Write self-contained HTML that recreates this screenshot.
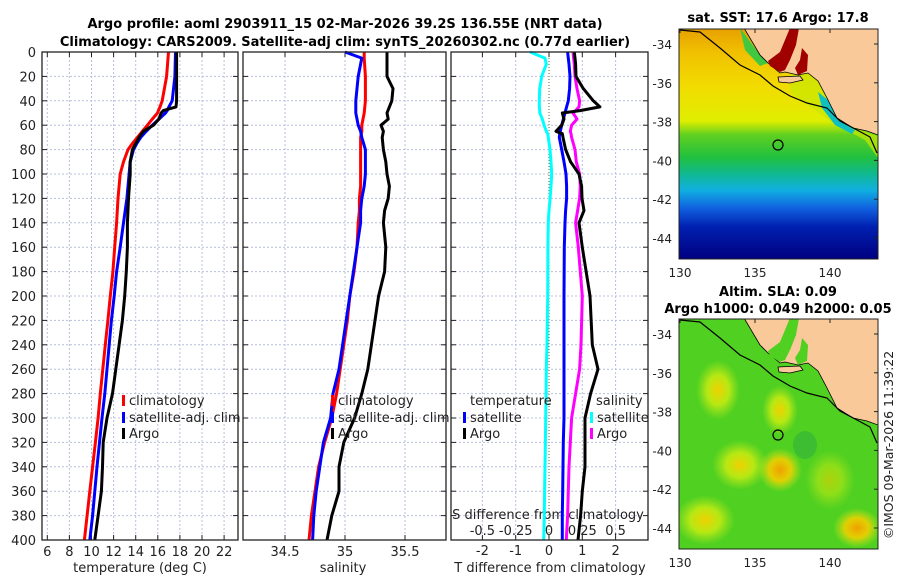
<!DOCTYPE html>
<html><head><meta charset="utf-8">
<style>
body{margin:0;background:#fff;}
svg{display:block;font-family:"DejaVu Sans","Liberation Sans",sans-serif;}
</style></head>
<body>
<svg id="fig" width="900" height="580" viewBox="0 0 900 580">
<defs>
<linearGradient id="sstGrad" x1="0" y1="0" x2="0" y2="1">
<stop offset="0" stop-color="#e8a000"/><stop offset="0.1" stop-color="#f0c000"/>
<stop offset="0.25" stop-color="#f2dc00"/><stop offset="0.4" stop-color="#e0ee00"/>
<stop offset="0.46" stop-color="#60d020"/><stop offset="0.56" stop-color="#20c040"/>
<stop offset="0.63" stop-color="#10b890"/><stop offset="0.7" stop-color="#10b0e0"/>
<stop offset="0.78" stop-color="#1060e0"/><stop offset="0.86" stop-color="#0020b0"/>
<stop offset="1" stop-color="#000080"/></linearGradient>
<radialGradient id="blobY"><stop offset="0" stop-color="#f0d000"/><stop offset="0.5" stop-color="#d0ee10" stop-opacity="0.8"/><stop offset="1" stop-color="#b0e820" stop-opacity="0"/></radialGradient>
<radialGradient id="blobO"><stop offset="0" stop-color="#f0a000"/><stop offset="0.5" stop-color="#f0d000" stop-opacity="0.9"/><stop offset="1" stop-color="#c0e820" stop-opacity="0"/></radialGradient>
<clipPath id="clipTop"><rect x="679" y="29" width="199" height="230"/></clipPath>
<clipPath id="clipBot"><rect x="679" y="319" width="199" height="230"/></clipPath>
</defs>
<g id="titles" fill="#000" font-weight="bold" font-size="13" text-anchor="middle">
<text x="345" y="28">Argo profile: aoml 2903911_15 02-Mar-2026 39.2S 136.55E (NRT data)</text>
<text x="345" y="46">Climatology: CARS2009. Satellite-adj clim: synTS_20260302.nc (0.77d earlier)</text>
</g>
<g id="panels"></g>

<!-- Top map -->
<g clip-path="url(#clipTop)">
<rect x="679" y="29" width="199" height="230" fill="url(#sstGrad)"/>
<path d="M790,72 L808,73 L818,81 L827,98 L837,118 L853,128 L878,136 L878,158 L865,140 L850,132 L835,125 L815,110 L800,100 L790,92Z" fill="#c8e800" opacity="0.7"/>
<path d="M818,92 L828,100 L838,120 L855,130 L852,134 L835,125 L822,108Z" fill="#10c0c0"/>
<path d="M740,28 L760,55 L768,63 L760,66 L745,50Z" fill="#40c840"/>
<path d="M744,28 L878,28 L878,135 L867,131 L853,128 L837,118 L827,98 L818,81 L808,73 L798,75 L785,72 L780,73 L768,63 L760,55Z" fill="#f9c99a" stroke="#000" stroke-width="0.8"/>
<path d="M790,28 L799,28 L796,45 L790,60 L785,70 L780,72 L770,66 L768,61 L780,52Z" fill="#a00000"/>
<path d="M802,48 L808,55 L807,71 L798,75 L795,68 L800,60Z" fill="#a00000"/>
<path d="M778,77 L800,76 L803,80 L790,83 L779,82Z" fill="#f9c99a" stroke="#000" stroke-width="0.8"/>
<polyline points="680,30 700,32 720,48 740,65 760,75 773,86 790,96 807,103 827,108 840,121 857,130 870,137 877,153" fill="none" stroke="#000" stroke-width="1.2"/>
<circle cx="778" cy="145" r="5" fill="none" stroke="#000" stroke-width="1.2"/>
</g>
<rect x="679" y="29" width="199" height="230" fill="none" stroke="#222" stroke-width="1"/>

<!-- Bottom map -->
<g clip-path="url(#clipBot)">
<rect x="679" y="319" width="199" height="230" fill="#50d020"/>
<ellipse cx="718" cy="390" rx="22" ry="30" fill="url(#blobY)"/>
<ellipse cx="780" cy="410" rx="18" ry="25" fill="url(#blobY)"/>
<ellipse cx="740" cy="465" rx="28" ry="25" fill="url(#blobY)"/>
<ellipse cx="780" cy="470" rx="22" ry="22" fill="url(#blobO)"/>
<ellipse cx="705" cy="520" rx="30" ry="25" fill="url(#blobY)"/>
<ellipse cx="857" cy="528" rx="24" ry="20" fill="url(#blobO)"/>
<ellipse cx="830" cy="480" rx="25" ry="30" fill="url(#blobY)" opacity="0.6"/>
<ellipse cx="805" cy="445" rx="12" ry="14" fill="#30b040" opacity="0.6"/>
<path d="M744,318 L878,318 L878,425 L867,421 L853,418 L837,408 L827,388 L818,371 L808,363 L798,365 L785,362 L780,363 L768,353 L760,345Z" fill="#f9c99a" stroke="#000" stroke-width="0.8"/>
<path d="M790,318 L799,318 L796,335 L790,350 L785,360 L780,362 L770,356 L768,351 L780,342Z" fill="#50d020"/>
<path d="M802,338 L808,345 L807,361 L798,365 L795,358 L800,350Z" fill="#50d020"/>
<path d="M778,367 L800,366 L803,370 L790,373 L779,372Z" fill="#f9c99a" stroke="#000" stroke-width="0.8"/>
<polyline points="680,320 700,322 720,338 740,355 760,365 773,376 790,386 807,393 827,398 840,411 857,420 870,427 877,443" fill="none" stroke="#000" stroke-width="1.2"/>
<circle cx="778" cy="435" r="5" fill="none" stroke="#000" stroke-width="1.2"/>
</g>
<rect x="679" y="319" width="199" height="230" fill="none" stroke="#222" stroke-width="1"/>

<g font-size="13" fill="#222">
<text x="778" y="22" text-anchor="middle" font-weight="bold" fill="#000">sat. SST: 17.6 Argo: 17.8</text>
<text x="778" y="296" text-anchor="middle" font-weight="bold" fill="#000">Altim. SLA: 0.09</text>
<text x="778" y="313" text-anchor="middle" font-weight="bold" fill="#000">Argo h1000: 0.049 h2000: 0.05</text>
<text transform="translate(893,445) rotate(-90)" text-anchor="middle" font-size="12.5">©IMOS 09-Mar-2026 11:39:22</text>
</g>
<g id="mapAxes" font-size="12" fill="#222"></g>
</svg>
<script>
// ---- data ----
const depthT = [0,20,40,45,48,50,55,60,65,70,75,80,90,100,120,140,160,180,200,220,240,260,280,300,320,340,360,380,400];
const tempClim = [16.97,16.8,16.4,16.2,16.05,15.97,15.5,15.06,14.6,14.15,13.7,13.3,12.9,12.6,12.4,12.27,12.1,11.94,11.7,11.48,11.25,11.02,10.8,10.6,10.35,10.1,9.85,9.6,9.36];
const tempSat = [17.6,17.55,17.3,17.0,16.85,16.7,16.1,15.5,14.95,14.45,14.1,13.8,13.5,13.4,13.2,12.9,12.6,12.27,12.05,11.8,11.6,11.4,11.2,10.95,10.72,10.5,10.3,10.1,9.85];
const tempArgo = [17.7,17.7,17.7,17.65,16.5,16.3,16.1,15.6,14.7,14.3,14.0,13.7,13.5,13.5,13.35,13.25,13.25,13.15,13.0,12.8,12.5,12.2,11.9,11.4,11.06,11.0,10.9,10.6,10.3];
const depthS = [0,5,20,30,40,50,55,60,65,70,80,90,100,110,120,130,140,160,180,200,220,240,260,280,300,320,340,360,380,400];
const salClim = [35.16,35.16,35.17,35.17,35.17,35.16,35.15,35.14,35.14,35.13,35.13,35.13,35.13,35.13,35.12,35.12,35.11,35.10,35.075,35.04,35.02,34.99,34.96,34.93,34.89,34.83,34.78,34.75,34.72,34.70];
const salSat = [35.0,35.14,35.11,35.1,35.09,35.09,35.1,35.11,35.13,35.14,35.17,35.17,35.17,35.16,35.14,35.13,35.13,35.10,35.07,35.04,35.01,34.98,34.95,34.90,34.88,34.82,34.79,34.76,34.74,34.73];
const salArgo = [35.35,35.35,35.35,35.4,35.39,35.35,35.36,35.3,35.32,35.31,35.32,35.34,35.35,35.37,35.36,35.33,35.32,35.34,35.33,35.28,35.25,35.22,35.19,35.14,35.08,34.99,34.95,34.95,34.89,34.85];
const depthD = [0,5,10,20,30,40,45,48,50,55,60,65,67,70,80,90,100,110,120,130,140,160,200,240,260,280,300,320,340,360,380,400];
const tDiffSat = [0.56,0.58,0.6,0.63,0.62,0.58,0.53,0.5,0.48,0.43,0.38,0.34,0.32,0.31,0.38,0.45,0.51,0.53,0.53,0.5,0.48,0.46,0.45,0.45,0.45,0.45,0.45,0.43,0.42,0.41,0.4,0.4];
const tDiffArgo = [0.76,0.78,0.8,0.81,1.03,1.33,1.53,0.93,0.4,0.45,0.38,0.21,0.4,0.42,0.5,0.65,0.9,0.98,0.99,1.05,0.9,1.0,1.23,1.3,1.47,1.25,1.08,1.08,1.08,1.0,0.95,0.87];
const sDiffSat = [-0.143,-0.03,-0.02,-0.055,-0.07,-0.073,-0.072,-0.07,-0.068,-0.05,-0.037,-0.02,-0.01,-0.005,0.0075,0.015,0.02,0.015,0.008,0.0,-0.005,-0.008,-0.01,-0.015,-0.02,-0.022,-0.025,-0.027,-0.03,-0.033,-0.035,-0.04];
const sDiffArgo = [0.18,0.185,0.19,0.195,0.21,0.23,0.225,0.2,0.18,0.21,0.17,0.16,0.165,0.17,0.195,0.205,0.23,0.235,0.23,0.215,0.2,0.22,0.25,0.24,0.23,0.2,0.17,0.16,0.15,0.145,0.14,0.13];
const depthTicks = [0,20,40,60,80,100,120,140,160,180,200,220,240,260,280,300,320,340,360,380,400];
const tempTicks = [6,8,10,12,14,16,18,20,22];
const salTicks = [34.5,35,35.5];
const tdTicks = [-2,-1,0,1,2];
const sdTickLabels = ["-0.5","-0.25","0","0.25","0.5"];
const sdTicks = [-0.5,-0.25,0,0.25,0.5];
const latTicks = [-34,-36,-38,-40,-42,-44];
const lonTicks = [130,135,140];

// ---- scales ----
const Y0=52, Y1=540;
const yD = d => Y0 + d*(Y1-Y0)/400;
const xT = t => 47.3 + (t-6)*11.05;
const xS = s => 345 + (s-35)*120;
const xTD = v => 549 + v*33.3;
const xSD = v => 549 + v*133.2;
const NS='http://www.w3.org/2000/svg';
const G=document.getElementById('panels');
function el(tag, attrs, parent){const e=document.createElementNS(NS,tag);for(const k in attrs)e.setAttribute(k,attrs[k]);(parent||G).appendChild(e);return e;}
function txt(s,x,y,anchor,parent,size){const t=el('text',{x:x,y:y,'text-anchor':anchor||'middle','font-size':size||13,fill:'#222'},parent);t.textContent=s;return t;}

const panels=[{x0:42,x1:238,name:'temperature'},{x0:243,x1:446,name:'salinity'},{x0:451,x1:648,name:'difference'}];
panels.forEach((p,i)=>{
  const g=el('g',{});
  
  
  p.g=g;
  let vx=[];
  if(i===0) vx=tempTicks.map(xT);
  if(i===1) vx=salTicks.map(xS);
  if(i===2) vx=tdTicks.map(xTD);
  vx.forEach((x,k)=>{
    const l=el('line',{x1:x,x2:x,y1:Y0,y2:Y1,stroke:(i===2&&k===2)?'#556b2f':'#b8bfdc','stroke-width':1,'stroke-dasharray':(i===2&&k===2)?'1,2':'2,2'},g);
    
    
  });
  depthTicks.forEach(d=>{
    const y=yD(d);
    const l=el('line',{x1:p.x0,x2:p.x1,y1:y,y2:y,stroke:'#b8bfdc','stroke-width':1,'stroke-dasharray':'2,2'},g);
    
    
    el('line',{x1:p.x0,x2:p.x0+5,y1:y,y2:y,stroke:'#222'},g);
    el('line',{x1:p.x1-5,x2:p.x1,y1:y,y2:y,stroke:'#222'},g);
  });
  vx.forEach(x=>{el('line',{x1:x,x2:x,y1:Y1,y2:Y1-5,stroke:'#222'},g);el('line',{x1:x,x2:x,y1:Y0,y2:Y0+5,stroke:'#222'},g);});
});
depthTicks.forEach(d=>{const t=txt(String(d),36,yD(d)+5,'end',panels[0].g);
  
  });
tempTicks.forEach(v=>{const t=txt(String(v),xT(v),556,'middle',panels[0].g);
  
  });
salTicks.forEach(v=>{const t=txt(String(v),xS(v),556,'middle',panels[1].g);
  
  });
tdTicks.forEach(v=>{const t=txt(String(v),xTD(v),555,'middle',panels[2].g);
  
  });
sdTicks.forEach((v,k)=>{const t=txt(sdTickLabels[k],xSD(v),535,'middle',panels[2].g);
  
  });
let a=txt('temperature (deg C)',140,572,'middle',panels[0].g);  
a=txt('salinity',343,572,'middle',panels[1].g);  
a=txt('T difference from climatology',550,572,'middle',panels[2].g);  
a=txt('S difference from climatology',548,519,'middle',panels[2].g);  

function line(xs,ds,fx,color,name,parent){
  const pts=xs.map((v,k)=>fx(v).toFixed(1)+','+yD(ds[k]).toFixed(1)).join(' ');
  const pl=el('polyline',{points:pts,fill:'none',stroke:color,'stroke-width':3,'stroke-linejoin':'round'},parent);
  
  
}
line(tempClim,depthT,xT,'#ff0000','temp-climatology-line',panels[0].g);
line(tempSat,depthT,xT,'#0000ff','temp-satellite-line',panels[0].g);
line(tempArgo,depthT,xT,'#000','temp-argo-line',panels[0].g);
line(salClim,depthS,xS,'#ff0000','sal-climatology-line',panels[1].g);
line(salSat,depthS,xS,'#0000ff','sal-satellite-line',panels[1].g);
line(salArgo,depthS,xS,'#000','sal-argo-line',panels[1].g);
line(sDiffSat,depthD,xSD,'#00ffff','sdiff-satellite-line',panels[2].g);
line(tDiffSat,depthD,xTD,'#0000ff','tdiff-satellite-line',panels[2].g);
line(sDiffArgo,depthD,xSD,'#ff00ff','sdiff-argo-line',panels[2].g);
line(tDiffArgo,depthD,xTD,'#000','tdiff-argo-line',panels[2].g);

function legend(g,x,y,color,label){
  const r=el('rect',{x:x,y:y-10,width:3,height:11,fill:color},g);
  
  
  const t=txt(label,x+7,y,'start',g);
  
  
}
[[panels[0].g,122],[panels[1].g,331]].forEach(([g,x])=>{
  legend(g,x,405,'#ff0000','climatology');
  legend(g,x,422,'#0000ff','satellite-adj. clim');
  legend(g,x,438,'#000','Argo');
});
const g3=panels[2].g;
a=txt('temperature',470,405,'start',g3);  
legend(g3,463,422,'#0000ff','satellite');
legend(g3,463,438,'#000','Argo');
a=txt('salinity',596,405,'start',g3);  
legend(g3,590,422,'#00ffff','satellite');
legend(g3,590,438,'#ff00ff','Argo');

panels.forEach(p=>{const r=el('rect',{x:p.x0,y:Y0,width:p.x1-p.x0,height:Y1-Y0,fill:'none',stroke:'#222','stroke-width':1.3},p.g);
  
  });

const MA=document.getElementById('mapAxes');
[[29,44,258],[319,334,548]].forEach(([top,lat34,bottom],m)=>{
  const yl = lat => lat34 + (-34-lat)*19.4;
  const xl = lon => 680 + (lon-130)*15;
  latTicks.forEach(lat=>{
    const y=yl(lat);
    const t=txt(String(lat),672,y+5,'end',MA,12);
    
    
    el('line',{x1:878,x2:874,y1:y,y2:y,stroke:'#222'},MA);
  });
  lonTicks.forEach(lon=>{
    const x=xl(lon);
    const t=txt(String(lon),x,bottom+19,'middle',MA,12);
    
    
    el('line',{x1:x,x2:x,y1:top,y2:top+4,stroke:'#222'},MA);
  });
});
</script>
</body></html>
